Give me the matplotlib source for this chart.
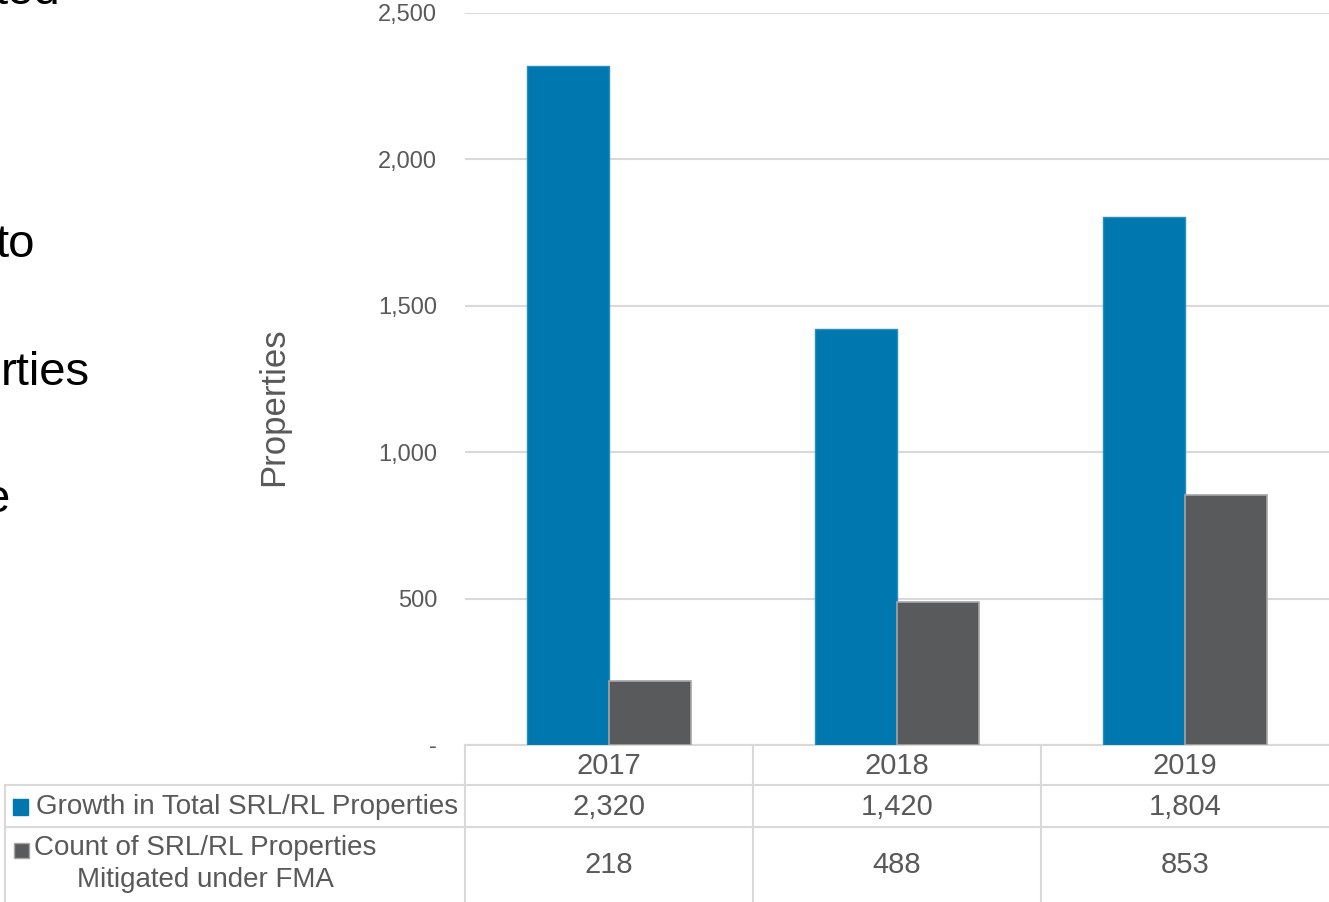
import matplotlib
matplotlib.use("Agg")
import matplotlib.pyplot as plt
from matplotlib.ticker import FuncFormatter
from matplotlib.patches import Rectangle
from matplotlib.lines import Line2D

# ---- data ----
years = ["2017", "2018", "2019"]
growth_total = [2320, 1420, 1804]
mitigated_fma = [218, 488, 853]
series_labels = ["Growth in Total SRL/RL Properties",
                 "Count of SRL/RL Properties\nMitigated under FMA"]
yticks = [0, 500, 1000, 1500, 2000, 2500]
side_text = ["ted", "to", "rties", "e"]

BLUE = "#0077AE"
GRAY = "#595A5C"
TXT = "#595959"
GRID = "#D9D9D9"
FONT = "Liberation Sans"

W, H = 1329, 902
fig = plt.figure(figsize=(W / 100, H / 100), dpi=100)
plt.rcParams['font.family'] = [FONT, 'DejaVu Sans']

def fx(px):
    return px / W

def fy(py):
    return 1 - py / H

ax_left, ax_right, ax_top, ax_bot = 465, 1329, 13, 745
ax = fig.add_axes([fx(ax_left), fy(ax_bot), fx(ax_right - ax_left), (ax_bot - ax_top) / H])

x = list(range(len(years)))
bw = 0.285
ax.bar([i - bw / 2 for i in x], growth_total, width=bw, color=BLUE,
       edgecolor="#2a8cc0", linewidth=1, zorder=3)
ax.bar([i + bw / 2 for i in x], mitigated_fma, width=bw, color=GRAY,
       edgecolor="#a6a6a6", linewidth=1.2, zorder=3)

ax.set_xlim(-0.5, len(years) - 0.5)
ax.set_ylim(0, 2500)
ax.set_yticks(yticks)
ax.yaxis.set_major_formatter(FuncFormatter(lambda v, p: "-" if v == 0 else f"{int(v):,}"))
ax.grid(axis="y", color=GRID, linewidth=1.5, zorder=0)
ax.set_xticks([])
for s in ["top", "right", "left"]:
    ax.spines[s].set_visible(False)
ax.spines["bottom"].set_color(GRID)
ax.spines["bottom"].set_linewidth(1.5)
ax.tick_params(axis="y", length=0, pad=20, labelsize=17, labelcolor=TXT)
ax.set_facecolor("none")

# y label
fig.text(fx(274), fy(407), "Properties", rotation=90, ha="center", va="center",
         fontsize=25, color=TXT)

# ---- data table below ----
line_kw = dict(color=GRID, linewidth=1.5)
fig.add_artist(Line2D([fx(5), fx(W)], [fy(785), fy(785)], **line_kw))
fig.add_artist(Line2D([fx(5), fx(W)], [fy(827), fy(827)], **line_kw))
fig.add_artist(Line2D([fx(5), fx(5)], [fy(785), fy(902)], **line_kw))
cell_w = (ax_right - ax_left) / len(years)
for i in range(len(years)):
    xv = ax_left + i * cell_w
    fig.add_artist(Line2D([fx(xv), fx(xv)], [fy(745), fy(902)], **line_kw))

for i, yr in enumerate(years):
    cx = ax_left + (i + 0.5) * cell_w
    fig.text(fx(cx), fy(766), yr, ha="center", va="center", fontsize=21, color=TXT)
    fig.text(fx(cx), fy(807), f"{growth_total[i]:,}", ha="center", va="center", fontsize=21, color=TXT)
    fig.text(fx(cx), fy(865), f"{mitigated_fma[i]:,}", ha="center", va="center", fontsize=21, color=TXT)

# legend keys in table
fig.add_artist(Rectangle((fx(13), fy(815)), fx(15), 16 / H, color=BLUE, transform=fig.transFigure))
fig.add_artist(Rectangle((fx(14), fy(858)), fx(15), 15 / H, facecolor=GRAY, edgecolor="#a6a6a6",
                         linewidth=1, transform=fig.transFigure))
fig.text(fx(36), fy(807), series_labels[0], ha="left", va="center", fontsize=20, color=TXT)
fig.text(fx(205), fy(864), series_labels[1], ha="center", va="center", fontsize=20, color=TXT,
         multialignment="center", linespacing=1.3)

# cut-off slide text at left
side_pos = [(60, -8), (35, 245), (90, 373), (10, 500)]
for t, (rx, cy) in zip(side_text, side_pos):
    fig.text(fx(rx), fy(cy), t, ha="right", va="center", fontsize=34, color="black")

fig.savefig("out.png", dpi=100)
